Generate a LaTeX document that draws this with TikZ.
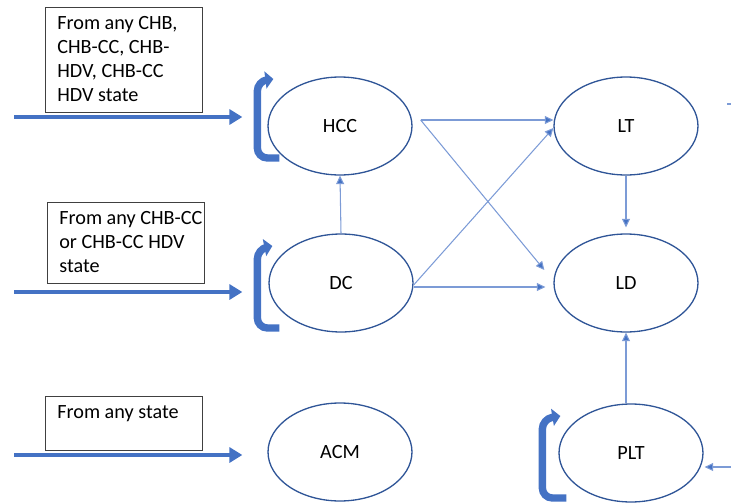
\documentclass[tikz,border=0pt]{standalone}
\usepackage{fontspec}
\setmainfont{Carlito}
\usetikzlibrary{arrows.meta,positioning,calc,shapes.geometric}
\definecolor{stateline}{HTML}{2F5597}
\definecolor{flowblue}{HTML}{4472C4}
\definecolor{thinblue}{HTML}{7C9BD6}

\begin{document}
\begin{tikzpicture}[x=0.02cm,y=-0.02cm,font=\fontsize{11.5}{13.6}\selectfont,
 state/.style={ellipse,draw=stateline,line width=.75pt,minimum width=2.88cm,minimum height=1.96cm},
 srcbox/.style={draw=black!75,line width=.5pt,minimum width=3.14cm,anchor=north west},
 srctext/.style={anchor=north west,align=left,inner sep=0pt},
 thickar/.style={-{Triangle[length=.26cm,width=.3cm]},flowblue,line width=2.4pt},
 thinar/.style={-{Triangle[length=.17cm,width=.16cm,fill=flowblue]},draw=thinblue,line width=.6pt},
 loopar/.style={-{Triangle[length=.16cm,width=.34cm]},draw=flowblue,line width=4.2pt,rounded corners=.2cm}]
\useasboundingbox (0,0) rectangle (731,504);
\node[state] (hcc) at (340,126) {HCC};
\node[state] (dc) at (341,283) {DC};
\node[state] (acm) at (340,452) {ACM};
\node[state] (lt) at (626,126) {LT};
\node[state] (ld) at (626,283) {LD};
\node[state] (plt) at (631,453) {PLT};
\node[srcbox,minimum height=2.1cm] (fromchb) at (45,7) {};
\node[srctext] (fromchbtext) at (57,16) {From any CHB,\\CHB-CC, CHB-\\HDV, CHB-CC\\HDV state};
\node[srcbox,minimum height=1.62cm] (fromcc) at (47,202) {};
\node[srctext] (fromcctext) at (59,211) {From any CHB-CC\\or CHB-CC HDV\\state};
\node[srcbox,minimum height=1.08cm] (fromany) at (45,396) {};
\node[srctext] (fromanytext) at (57,405) {From any state};
\coordinate (inchb) at (14,117);
\coordinate (incc) at (14,292);
\coordinate (inany) at (14,455);
\coordinate (inplt) at (731,467);
\coordinate (hccout) at ($(hcc.east)+(8,-6)$);
\coordinate (stub) at (727,104);
\draw[thickar] (inchb) -- ($(hcc.west)+(-25,-9)$);
\draw[thickar] (incc) -- ($(dc.west)+(-26,9)$);
\draw[thickar] (inany) -- ($(acm.west)+(-25,3)$);
\draw[loopar] ($(hcc.west)+(12,32)$) -- ($(hcc.west)+(-10,32)$) -- ($(hcc.west)+(-10,-45)$) -- ($(hcc.west)+(6,-47)$);
\draw[loopar] ($(dc.west)+(11,45)$) -- ($(dc.west)+(-11,45)$) -- ($(dc.west)+(-11,-34)$) -- ($(dc.west)+(4,-37)$);
\draw[loopar] ($(plt.west)+(8,45)$) -- ($(plt.west)+(-16,45)$) -- ($(plt.west)+(-16,-34)$) -- ($(plt.west)+(2,-37)$);
\draw[thinar] (dc.north) -- (hcc.south);
\draw[thinar] (hccout) -- (lt.west |- hccout);
\draw[thinar] (hccout) -- ($(ld.west)+(-9,-13)$);
\draw[thinar] ($(dc.east)+(0,2)$) -- ($(lt.west)+(0,2)$);
\draw[thinar] ($(dc.east)+(0,4)$) -- ($(ld.west)+(-8,4)$);
\draw[thinar] (lt.south) -- ($(ld.north)+(0,-6)$);
\draw[thinar] (plt.north -| ld.south) -- (ld.south);
\draw[thinar] (inplt) -- ($(plt.east)+(1,14)$);
\draw[thinblue,line width=.6pt] (stub) -- ++(4,0);
\end{tikzpicture}
\end{document}
